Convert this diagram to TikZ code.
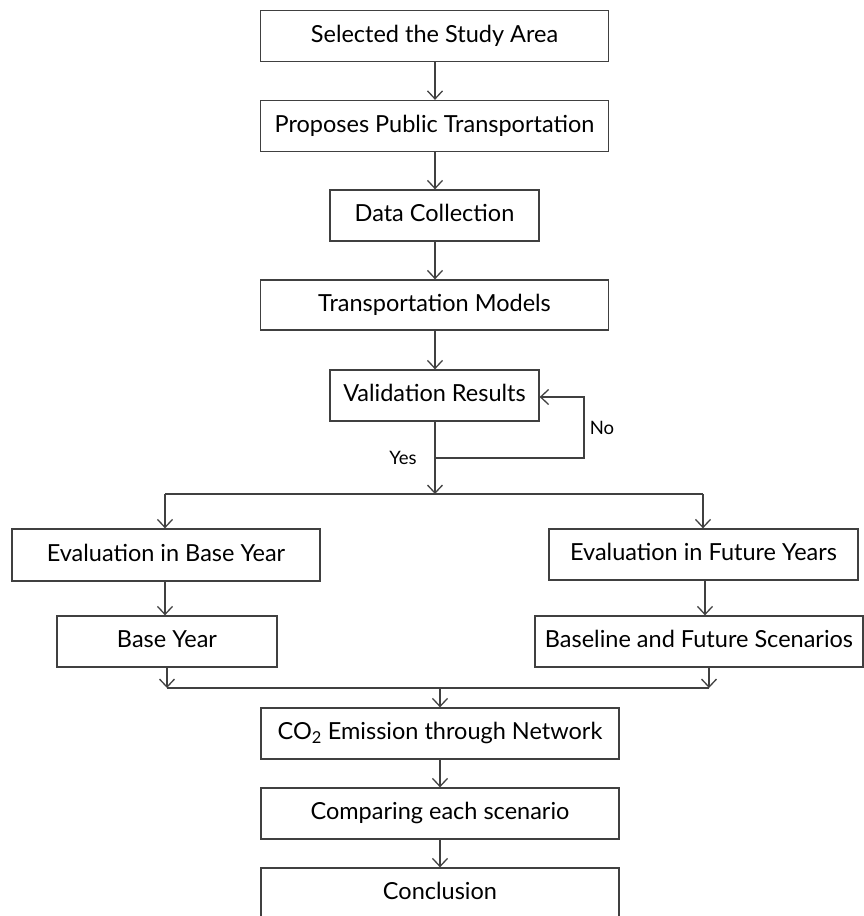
\documentclass[tikz,border=0pt]{standalone}
\usepackage{fontspec}
\setmainfont{Lato}
\usetikzlibrary{arrows.meta}
\definecolor{ln}{HTML}{404040}
\tikzset{
  box/.style={draw=ln, line width=1.3pt, minimum height=51pt, inner sep=0pt, text height=17.5pt, text depth=5pt, font=\fontsize{23.5}{26}\selectfont, text=black},
  conn/.style={draw=ln, line width=1.3pt},
  arr/.style={conn, -{Straight Barb[length=8pt,width=15pt,line width=1.3pt]}},
  lbl/.style={font=\fontsize{18.5}{21}\selectfont, text=black, inner sep=0pt}
}
\begin{document}
\begin{tikzpicture}[x=1pt,y=-1pt]
\useasboundingbox (0,0) rectangle (863,916);
\node[box, minimum width=348pt] (a) at (434.5,36) {Selected the Study Area};
\node[box, minimum width=348pt] (b) at (434.5,126) {Proposes Public Transportation};
\node[box, minimum width=209pt] (c) at (434.5,215.5) {Data Collection};
\node[box, minimum width=348pt, minimum height=50pt] (d) at (434.5,305) {Transportation Models};
\node[box, minimum width=209pt] (e) at (434.5,395.5) {Validation Results};
\node[box, minimum width=308pt, minimum height=52pt] (f) at (166,555) {Evaluation in Base Year};
\node[box, minimum width=220pt] (g) at (167,641.5) {Base Year};
\node[box, minimum width=309pt] (h) at (703.5,554.5) {Evaluation in Future Years};
\node[box, minimum width=328pt] (i) at (699,641.5) {Baseline and Future Scenarios};
\node[box, minimum width=358pt] (j) at (440,733.5) {CO\textsubscript{2} Emission through Network};
\node[box, minimum width=358pt] (k) at (440,813.5) {Comparing each scenario};
\node[box, minimum width=358pt] (l) at (440,893.5) {Conclusion};

\coordinate (split) at (435,494);
\coordinate (splitL) at (165,494);
\coordinate (splitR) at (703,494);
\coordinate (loopA) at (584,397);
\coordinate (loopB) at (584,458);
\coordinate (loopC) at (435,458);
\coordinate (mergeL) at (167,688);
\coordinate (mergeR) at (709,688);
\coordinate (merge) at (440,688);

\draw[arr] (a.south -| 435,0) -- (b.north -| 435,0);
\draw[arr] (b.south -| 435,0) -- (c.north -| 435,0);
\draw[arr] (c.south -| 435,0) -- (d.north -| 435,0);
\draw[arr] (d.south -| 435,0) -- (e.north -| 435,0);
\draw[arr] (e.south -| 435,0) -- (split);
\draw[arr] (loopC) -- (loopB) -- (loopA) -- (e.east |- loopA);
\draw[conn] (splitL) -- (splitR);
\draw[arr] (splitL) -- (f.north -| splitL);
\draw[arr] (splitR) -- (h.north -| splitR);
\draw[arr] (f.south -| splitL) -- (g.north -| splitL);
\draw[arr] (h.south -| 705,0) -- (i.north -| 705,0);
\draw[arr] (g.south) -- (mergeL);
\draw[arr] (i.south -| mergeR) -- (mergeR);
\draw[conn] (mergeL) -- (mergeR);
\draw[arr] (merge) -- (j.north);
\draw[arr] (j.south) -- (k.north);
\draw[arr] (k.south) -- (l.north);

\node[lbl] (no) at (602,428) {No};
\node[lbl] (yes) at (403,458) {Yes};
\end{tikzpicture}
\end{document}
